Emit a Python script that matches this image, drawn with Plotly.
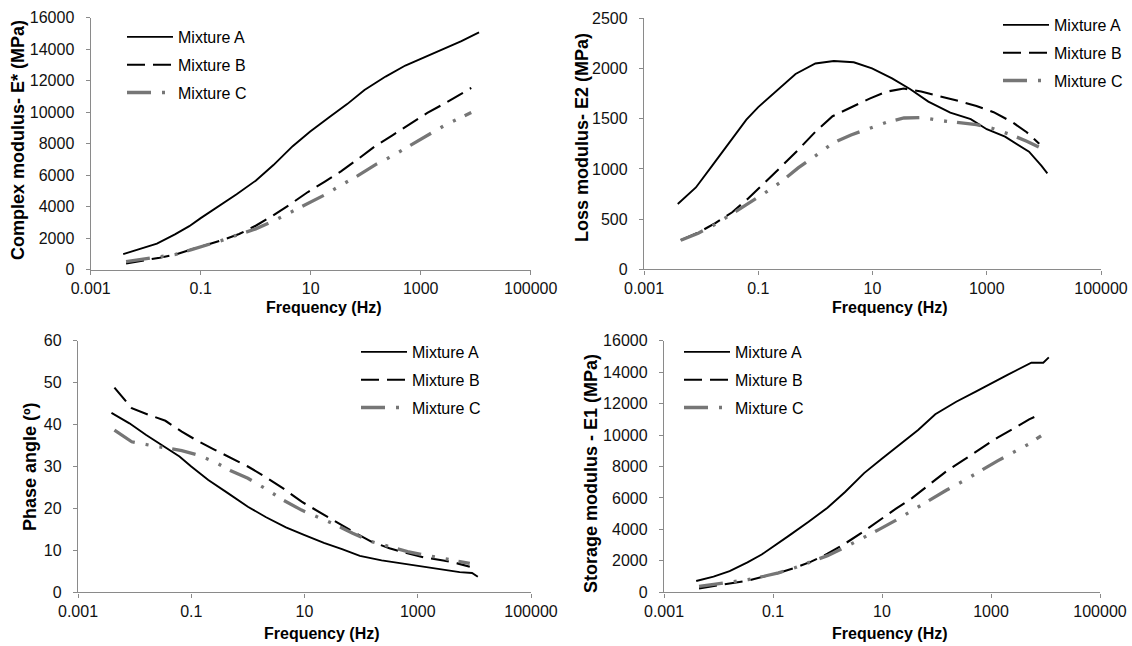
import plotly.graph_objects as go

W, H = 1132, 646

# ---------------- data ----------------
freq_A = [0.0039, 0.0081, 0.016, 0.034, 0.062, 0.10, 0.20, 0.45, 1.0, 2.1, 4.7, 9.8,
          22, 46, 95, 230, 525, 1000, 2090, 5500, 9100, 11500]
freq_BC = [0.0044, 0.0089, 0.018, 0.035, 0.068, 0.126, 0.25, 0.50, 1.0, 2.0, 4.2, 8.9,
           17.8, 35.5, 71, 151, 316, 660, 1320, 2820, 5010, 8300]

estar_A = [980, 1300, 1640, 2230, 2750, 3260, 3940, 4780, 5640, 6630, 7830, 8760,
           9680, 10500, 11400, 12250, 12950, 13370, 13880, 14500, 14880, 15060]
estar_B = [380, 560, 750, 960, 1290, 1560, 1880, 2250, 2780, 3400, 4130, 4920,
           5570, 6230, 6990, 7850, 8550, 9280, 9940, 10570, 11090, 11530]
estar_C = [500, 640, 780, 960, 1260, 1520, 1860, 2230, 2580, 3040, 3620, 4170,
           4730, 5350, 5940, 6660, 7240, 7900, 8520, 9180, 9600, 9970]

e2_A = [650, 815, 1040, 1285, 1490, 1615, 1770, 1945, 2050, 2075, 2062, 2002,
        1902, 1793, 1670, 1560, 1495, 1395, 1321, 1171, 1030, 956]
e2_B = [290, 365, 462, 568, 710, 855, 1020, 1190, 1370, 1525, 1610, 1700,
        1770, 1800, 1770, 1725, 1678, 1627, 1565, 1465, 1365, 1250]
e2_C = [290, 360, 450, 552, 656, 755, 870, 1010, 1130, 1255, 1338, 1400,
        1465, 1507, 1512, 1482, 1458, 1440, 1400, 1335, 1275, 1215]

phase_A = [42.8, 40.3, 37.5, 34.7, 32.4, 30.0, 26.8, 23.6, 20.4, 17.9, 15.5, 13.7,
           11.8, 10.3, 8.7, 7.6, 6.9, 6.3, 5.6, 4.8, 4.6, 3.7]
phase_B = [48.8, 43.9, 42.3, 40.9, 38.3, 36.2, 34.1, 32.1, 30.0, 27.6, 24.8, 21.6,
           19.2, 16.9, 14.5, 12.1, 10.5, 9.3, 8.3, 7.6, 6.9, 6.1]
phase_C = [38.7, 35.9, 35.1, 34.5, 33.8, 32.8, 31.2, 29.0, 27.2, 24.8, 22.0, 19.6,
           17.9, 16.1, 14.1, 12.1, 10.9, 9.7, 8.9, 8.1, 7.6, 6.9]

e1_A = [720, 1000, 1350, 1900, 2400, 2880, 3620, 4480, 5380, 6380, 7580, 8480,
        9420, 10320, 11320, 12120, 12760, 13290, 13860, 14600, 14600, 14940]
e1_B = [250, 405, 560, 740, 1010, 1230, 1560, 1950, 2450, 3050, 3780, 4600,
        5300, 5990, 6800, 7690, 8420, 9170, 9840, 10480, 11000, 11350]
e1_C = [370, 525, 660, 810, 1020, 1240, 1560, 1950, 2330, 2830, 3390, 4000,
        4570, 5190, 5800, 6490, 7090, 7750, 8360, 8980, 9440, 9950]

series_names = ["Mixture A", "Mixture B", "Mixture C"]
x_tick_vals = [0.001, 0.1, 10, 1000, 100000]
x_tick_text = ["0.001", "0.1", "10", "1000", "100000"]
x_title = "Frequency (Hz)"
y_titles = ["Complex modulus- E* (MPa)", "Loss modulus- E2 (MPa)",
            "Phase angle (º)", "Storage modulus - E1 (MPa)"]
y_ranges = [[0, 16000], [0, 2500], [0, 60], [0, 16000]]
y_dticks = [2000, 500, 10, 2000]

# ---------------- styling ----------------
FONT = "Liberation Sans, Arial, sans-serif"
AXIS_COLOR = "#8a8a8a"
styles = [
    dict(color="#000000", width=1.9, dash="solid"),
    dict(color="#000000", width=2.1, dash="18px,8px"),
    dict(color="#767676", width=3.3, dash="24px,11px,3px,11px,3px,10px"),
]

# panel geometry in pixels: (x0, x1, ytop, ybottom)
panels = [
    (90.7, 530.7, 17.5, 269.5),
    (644.0, 1101.0, 18.3, 269.3),
    (78.0, 531.0, 340.7, 592.3),
    (664.0, 1100.0, 340.7, 592.3),
]
# legend: (line start x, first row center y)
legend_pos = [(127, 38), (1003, 26), (361, 353), (684, 353)]
# axis-title centers: (ytitle x, ytitle y, xtitle x, xtitle y)
title_pos = [(18, 140, 324, 308), (582, 138, 890, 308),
             (30, 467, 322, 633), (591, 474, 890, 633)]

panel_data = [
    (estar_A, estar_B, estar_C),
    (e2_A, e2_B, e2_C),
    (phase_A, phase_B, phase_C),
    (e1_A, e1_B, e1_C),
]

fig = go.Figure()
layout = dict(
    width=W, height=H, autosize=False,
    margin=dict(l=0, r=0, t=0, b=0, autoexpand=False),
    paper_bgcolor="white", plot_bgcolor="white",
    font=dict(family=FONT, size=16, color="#000000"),
    annotations=[],
)

for i, (pdata, (x0, x1, yt, yb)) in enumerate(zip(panel_data, panels)):
    sfx = "" if i == 0 else str(i + 1)
    xa, ya = "x" + sfx, "y" + sfx
    leg = "legend" + sfx
    for j, (yvals, name) in enumerate(zip(pdata, series_names)):
        fx = freq_A if j == 0 else freq_BC
        fig.add_trace(go.Scatter(
            x=fx, y=yvals, name=name, mode="lines",
            line=styles[j], xaxis=xa, yaxis=ya, legend=leg,
            legendgroup=f"g{i}{j}", showlegend=True,
        ))
    layout["xaxis" + sfx] = dict(
        type="log", range=[-3, 5], domain=[x0 / W, x1 / W],
        anchor=ya, tickvals=x_tick_vals, ticktext=x_tick_text,
        showgrid=False, zeroline=False, showline=True, linecolor=AXIS_COLOR,
        linewidth=1.4, ticks="outside", ticklen=4, tickwidth=1.2,
        tickcolor=AXIS_COLOR, tickfont=dict(size=16, color="#111111"),
        ticklabelstandoff=0,
    )
    layout["yaxis" + sfx] = dict(
        range=y_ranges[i], dtick=y_dticks[i], tick0=0, tickformat="d",
        domain=[1 - yb / H, 1 - yt / H], anchor=xa,
        showgrid=False, zeroline=False, showline=True, linecolor=AXIS_COLOR,
        linewidth=1.4, ticks="outside", ticklen=4, tickwidth=1.2,
        tickcolor=AXIS_COLOR, tickfont=dict(size=16, color="#111111"),
        ticklabelstandoff=8,
    )
    lx, ly = legend_pos[i]
    layout[leg] = dict(
        x=(lx - 5) / W, y=1 - (ly - 18) / H, xanchor="left", yanchor="top",
        bgcolor="rgba(0,0,0,0)", borderwidth=0,
        font=dict(family=FONT, size=16, color="#000000"),
        tracegroupgap=4, itemwidth=46,
    )
    ytx, yty, xtx, xty = title_pos[i]
    layout["annotations"].append(dict(
        text=y_titles[i], x=ytx / W, y=1 - yty / H, xref="paper", yref="paper",
        xanchor="center", yanchor="middle", textangle=-90, showarrow=False,
        font=dict(family=FONT, size=18, color="#000000", weight="bold"),
    ))
    layout["annotations"].append(dict(
        text=x_title, x=xtx / W, y=1 - xty / H, xref="paper", yref="paper",
        xanchor="center", yanchor="middle", showarrow=False,
        font=dict(family=FONT, size=16, color="#000000", weight="bold"),
    ))

fig.update_layout(**layout)
fig.write_html("out.html", config={"displayModeBar": False},
               post_script="document.body.style.margin='0';document.body.style.overflow='hidden';")
